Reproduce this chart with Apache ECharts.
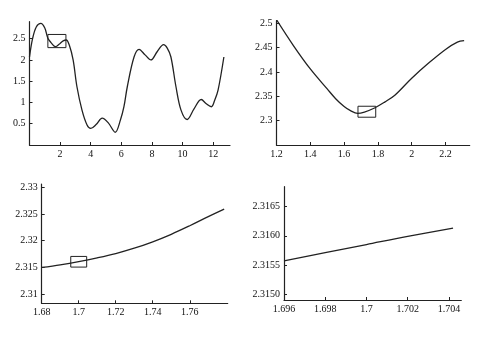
<!DOCTYPE html>
<html>
<head>
<meta charset="utf-8">
<script src="https://cdn.jsdelivr.net/npm/echarts@6/dist/echarts.min.js"></script>
<style>html,body{margin:0;padding:0;background:#fff}#c{width:486px;height:341px}</style>
</head>
<body>
<div id="c"></div>
<script>
// Panel 1 (full curve)
var p1X = [0, 0.2, 0.45, 0.74, 1.0, 1.2, 1.4, 1.6, 1.7, 1.8, 2.0, 2.2, 2.4, 2.6, 2.85, 3.1, 3.43, 3.76, 4.0, 4.35, 4.75, 5.15, 5.6, 5.95, 6.17, 6.39, 6.83, 7.16, 7.55, 7.93, 8.35, 8.76, 9.0, 9.24, 9.57, 9.9, 10.3, 10.75, 11.22, 11.55, 11.88, 12.1, 12.32, 12.7];
var p1Y = [2.07, 2.5, 2.78, 2.86, 2.75, 2.51, 2.41, 2.33, 2.315, 2.33, 2.39, 2.45, 2.47, 2.35, 2.0, 1.37, 0.82, 0.47, 0.39, 0.48, 0.63, 0.52, 0.30, 0.6, 0.9, 1.37, 2.07, 2.25, 2.12, 2.0, 2.2, 2.36, 2.28, 2.07, 1.37, 0.82, 0.60, 0.85, 1.07, 0.97, 0.90, 1.05, 1.29, 2.07];
// Panel 2 (zoom 1)
var p2X = [1.2, 1.3, 1.4, 1.5, 1.55, 1.6, 1.64, 1.68, 1.72, 1.78, 1.84, 1.9, 2.0, 2.1, 2.2, 2.27, 2.31];
var p2Y = [2.507, 2.454, 2.406, 2.365, 2.345, 2.329, 2.320, 2.315, 2.3176, 2.3259, 2.338, 2.352, 2.387, 2.418, 2.446, 2.461, 2.464];
// Panel 3 (zoom 2)
var p3X = [1.68, 1.69, 1.70, 1.71, 1.72, 1.73, 1.74, 1.75, 1.76, 1.77, 1.7786];
var p3Y = [2.3150, 2.3155, 2.3161, 2.3168, 2.3176, 2.3186, 2.3198, 2.3212, 2.3228, 2.3245, 2.3259];
// Panel 4 (zoom 3)
var p4X = [1.696, 1.698, 1.700, 1.702, 1.7042];
var p4Y = [2.31557, 2.31571, 2.31585, 2.31599, 2.31613];
// Zoom boxes [x0, x1, y0, y1]
var box1 = [1.2, 2.38, 2.29, 2.6];
var box2 = [1.682, 1.787, 2.307, 2.3295];
var box3 = [1.6957, 1.7043, 2.31507, 2.31706];
// Tick labels
var p1XTicks = ["2", "4", "6", "8", "10", "12"];
var p1YTicks = ["0.5", "1", "1.5", "2", "2.5"];
var p2XTicks = ["1.2", "1.4", "1.6", "1.8", "2", "2.2"];
var p2YTicks = ["2.3", "2.35", "2.4", "2.45", "2.5"];
var p3XTicks = ["1.68", "1.7", "1.72", "1.74", "1.76"];
var p3YTicks = ["2.31", "2.315", "2.32", "2.325", "2.33"];
var p4XTicks = ["1.696", "1.698", "1.7", "1.702", "1.704"];
var p4YTicks = ["2.3150", "2.3155", "2.3160", "2.3165"];

var FONT = 'Liberation Serif';
var INK = '#222';

function pairs(xs, ys) { return xs.map(function (x, i) { return [x, ys[i]]; }); }
function vals(t) { return t.map(parseFloat); }
function fmt(t) {
  return function (v) {
    for (var i = 0; i < t.length; i++) {
      if (Math.abs(parseFloat(t[i]) - v) < 1e-9) return t[i];
    }
    return '';
  };
}
function axis(idx, type, min, max, ticks) {
  return {
    type: 'value', gridIndex: idx, min: min, max: max,
    axisLine: { show: true, onZero: false, lineStyle: { color: INK, width: 1.2 } },
    axisTick: { show: true, inside: true, length: 3, customValues: vals(ticks), lineStyle: { color: INK, width: 1 } },
    axisLabel: { show: true, customValues: vals(ticks), formatter: fmt(ticks), fontFamily: FONT, fontSize: 10, color: '#111', margin: 4 },
    splitLine: { show: false }
  };
}
function boxArea(b) {
  return {
    silent: true,
    itemStyle: { color: 'rgba(0,0,0,0)', borderColor: INK, borderWidth: 1 },
    data: [[{ xAxis: b[0], yAxis: b[2] }, { xAxis: b[1], yAxis: b[3] }]]
  };
}
function lineSeries(idx, xs, ys, box) {
  var s = {
    type: 'line', xAxisIndex: idx, yAxisIndex: idx, data: pairs(xs, ys),
    smooth: 0.35, showSymbol: false, symbol: 'none',
    lineStyle: { color: INK, width: 1.3 }, animation: false
  };
  if (box) s.markArea = boxArea(box);
  return s;
}

var chart = echarts.init(document.getElementById('c'), null, { renderer: 'canvas' });
chart.setOption({
  backgroundColor: '#fff',
  animation: false,
  grid: [
    { left: 29.5, top: 21.7, width: 200.5, height: 123.3 },
    { left: 276.5, top: 20.7, width: 193.2, height: 124.3 },
    { left: 41.7, top: 184, width: 186, height: 119.3 },
    { left: 284, top: 186.7, width: 177.3, height: 113.3 }
  ],
  xAxis: [
    axis(0, 'x', 0, 13.1, p1XTicks),
    axis(1, 'x', 1.2, 2.343, p2XTicks),
    axis(2, 'x', 1.68, 1.7805, p3XTicks),
    axis(3, 'x', 1.696, 1.7046, p4XTicks)
  ],
  yAxis: [
    axis(0, 'y', 0, 2.9, p1YTicks),
    axis(1, 'y', 2.25, 2.505, p2YTicks),
    axis(2, 'y', 2.3083, 2.3306, p3YTicks),
    axis(3, 'y', 2.3149, 2.31684, p4YTicks)
  ],
  series: [
    lineSeries(0, p1X, p1Y, box1),
    lineSeries(1, p2X, p2Y, box2),
    lineSeries(2, p3X, p3Y, box3),
    lineSeries(3, p4X, p4Y, null)
  ]
});
</script>
</body>
</html>
